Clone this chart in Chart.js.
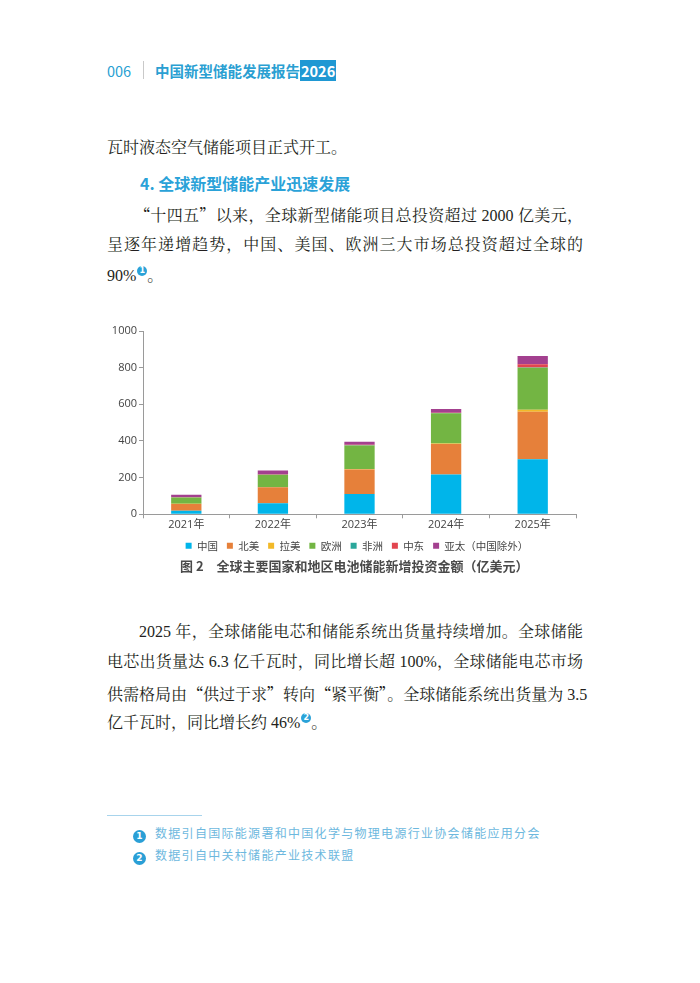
<!DOCTYPE html>
<html lang="zh-CN">
<head>
<meta charset="utf-8">
<title>中国新型储能发展报告2026</title>
<script src="https://cdn.jsdelivr.net/npm/chart.js@4.4.1/dist/chart.umd.min.js"></script>
<style>
  html, body { margin: 0; padding: 0; background: #fff; }
  body { width: 700px; height: 983px; position: relative; overflow: hidden; }
  .abs { position: absolute; white-space: nowrap; }
  .head { font-family: "Noto Sans CJK SC", "Noto Sans", sans-serif; font-size: 14.5px; color: #2a9fd2; }
  .head b { font-weight: 700; }
  .yr { background: #1f98d3; color: #fff; padding: 0 1px; font-weight: 700; }
  .txt { font-family: "Liberation Serif", "Noto Serif CJK SC", "Noto Sans CJK SC", serif; font-size: 16px; color: #231f20; line-height: 20px; }
  .q { font-family: "Noto Sans CJK SC", sans-serif; }
  .full { width: 476px; text-align: justify; text-align-last: justify; }
  .ind { text-align: justify; text-align-last: justify; }
  .h4 { font-family: "Noto Sans CJK SC", sans-serif; font-size: 16px; font-weight: 700; color: #2aa2d8; line-height: 20px; }
  .sup { display: inline-block; width: 10px; height: 10px; border-radius: 50%; background: #2aa2d8; color: #fff;
         font: 700 8px/10px "DejaVu Sans", sans-serif; text-align: center; vertical-align: 8px; margin-left: 1px; }
  .cap { font-family: "Noto Sans CJK SC", sans-serif; font-size: 13px; font-weight: 700; color: #4a4a4a; }
  .foot { font-family: "Noto Sans CJK SC", sans-serif; font-size: 12px; color: #6db8de; letter-spacing: 1.3px; }
  .num { display: inline-block; width: 13px; height: 13px; border-radius: 50%; background: #2a9fd6; color: #fff;
         font: 700 9px/13px "DejaVu Sans", sans-serif; text-align: center; letter-spacing: 0; margin-right: 9px; vertical-align: -1px; }
  #box { position: absolute; left: 100px; top: 318px; width: 520px; height: 243px; }
</style>
</head>
<body>
<div class="abs head" style="left:107px; top:60px;">006</div>
<div class="abs" style="left:143px; top:61px; width:1px; height:18px; background:#c9c9c9;"></div>
<div class="abs head" style="left:155px; top:60px;"><b>中国新型储能发展报告<span class="yr">2026</span></b></div>

<div class="abs txt" style="left:107px; top:138px;">瓦时液态空气储能项目正式开工。</div>
<div class="abs h4" style="left:140px; top:173px;">4. 全球新型储能产业迅速发展</div>
<div class="abs txt ind" style="left:134px; top:204px; width:449px;"><span class="q">“</span>十四五<span class="q">”</span>以来，全球新型储能项目总投资超过 2000 亿美元，</div>
<div class="abs txt full" style="left:107px; top:235px;">呈逐年递增趋势，中国、美国、欧洲三大市场总投资超过全球的</div>
<div class="abs txt" style="left:107px; top:266px;">90%<span class="sup">1</span>。</div>

<div id="box"><canvas id="chart"></canvas></div>
<div class="abs cap" style="left:180px; top:556px;">图 2　全球主要国家和地区电池储能新增投资金额（亿美元）</div>

<div class="abs txt ind" style="left:139px; top:622px; width:444px;">2025 年，全球储能电芯和储能系统出货量持续增加。全球储能</div>
<div class="abs txt full" style="left:107px; top:652px;">电芯出货量达 6.3 亿千瓦时，同比增长超 100%，全球储能电芯市场</div>
<div class="abs txt full" style="left:107px; top:683px;">供需格局由<span class="q">“</span>供过于求<span class="q">”</span>转向<span class="q">“</span>紧平衡<span class="q">”</span>。全球储能系统出货量为 3.5</div>
<div class="abs txt" style="left:107px; top:713px;">亿千瓦时，同比增长约 46%<span class="sup">2</span>。</div>

<div class="abs" style="left:107px; top:815px; width:95px; height:1px; background:#a8d4ec;"></div>
<div class="abs foot" style="left:133px; top:824px;"><span class="num">1</span>数据引自国际能源署和中国化学与物理电源行业协会储能应用分会</div>
<div class="abs foot" style="left:133px; top:846px;"><span class="num">2</span>数据引自中关村储能产业技术联盟</div>

<script>
const ctx = document.getElementById("chart").getContext("2d");

// 年份
const years = ["2021年", "2022年", "2023年", "2024年", "2025年"];

// 各地区新增投资（亿美元）
const china = [20, 60, 111, 217, 301];
const northAmerica = [36, 87, 134, 167, 259];
const latinAmerica = [1, 1, 2, 2, 10];
const europe = [35, 68, 129, 165, 230];
const africa = [0, 0, 1, 1, 1];
const middleEast = [1, 1, 2, 2, 18];
const asiaPacific = [14, 22, 17, 21, 45];

const regions = ["中国", "北美", "拉美", "欧洲", "非洲", "中东", "亚太（中国除外）"];
const colors = ["#00b5ea", "#e6803a", "#f2b928", "#73b543", "#2aa79b", "#e2454f", "#a3408f"];
const series = [china, northAmerica, latinAmerica, europe, africa, middleEast, asiaPacific];

const tickFont = { family: "'Open Sans', 'Noto Sans CJK SC', sans-serif", size: 11 };
const legendFont = { family: "'Noto Sans CJK SC', sans-serif", size: 10.5 };

new Chart(ctx, {
  type: "bar",
  data: {
    labels: years,
    datasets: series.map((s, i) => ({
      label: regions[i],
      data: s,
      backgroundColor: colors[i],
      borderWidth: 0,
      barPercentage: 0.7,
      categoryPercentage: 0.5
    }))
  },
  options: {
    responsive: true,
    maintainAspectRatio: false,
    animation: false,
    layout: { padding: { top: 13, right: 6, left: 0, bottom: 0 } },
    plugins: {
      legend: {
        position: "bottom",
        labels: { boxWidth: 6, boxHeight: 6, padding: 9, color: "#444", font: legendFont }
      },
      tooltip: { enabled: false }
    },
    scales: {
      x: {
        stacked: true,
        border: { color: "#9a9a9a" },
        grid: { drawOnChartArea: false, tickLength: 4, color: "#9a9a9a" },
        ticks: { color: "#444", font: tickFont, padding: 0 }
      },
      y: {
        stacked: true,
        min: 0,
        max: 1000,
        border: { color: "#9a9a9a" },
        grid: { drawOnChartArea: false, tickLength: 4, color: "#9a9a9a" },
        ticks: { stepSize: 200, color: "#444", font: tickFont, padding: 2, callback: v => String(v) },
        afterFit: scale => { scale.width = 43; }
      },
      // empty right-hand spacer so the legend sits centred under the page like the original
      spacer: {
        type: "linear",
        position: "right",
        grid: { display: false },
        border: { display: false },
        ticks: { display: false },
        afterFit: scale => { scale.width = 38; }
      }
    }
  }
});
</script>
</body>
</html>
